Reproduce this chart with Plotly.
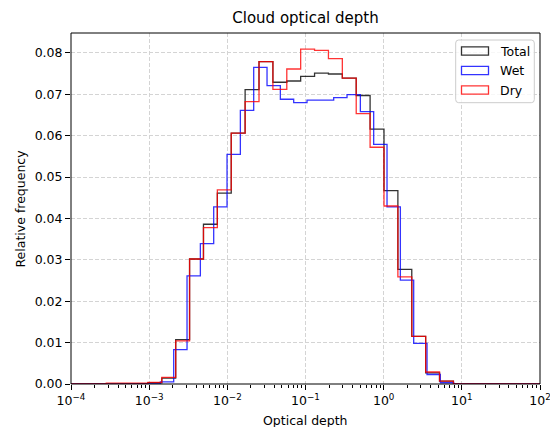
import plotly.graph_objects as go

# ---- histogram data (bin edges as log10 of optical depth) ----
total_edges_log = [-3.5489, -3.3713, -3.1936, -3.0160, -2.8383, -2.6606, -2.4830,
                   -2.3053, -2.1277, -1.9500, -1.7724, -1.5947, -1.4171, -1.2394,
                   -1.0618, -0.8841, -0.7065, -0.5288, -0.3511, -0.1735, 0.0042,
                   0.1818, 0.3595, 0.5371, 0.7148, 0.8924]
total_freq = [0.0000, 0.0001, 0.0001, 0.0003, 0.0014, 0.0107, 0.0302, 0.0386,
              0.0461, 0.0606, 0.0711, 0.0779, 0.0729, 0.0732, 0.0743, 0.0751,
              0.0749, 0.0739, 0.0697, 0.0616, 0.0467, 0.0277, 0.0115, 0.0027,
              0.0007]

wet_edges_log = [-2.8568, -2.6862, -2.5156, -2.3451, -2.1745, -2.0039, -1.8334,
                 -1.6628, -1.4922, -1.3217, -1.1511, -0.9805, -0.8099, -0.6394,
                 -0.4688, -0.2982, -0.1277, 0.0429, 0.2135, 0.3841, 0.5546,
                 0.7252, 0.8958]
wet_freq = [0.0005, 0.0083, 0.0261, 0.0339, 0.0428, 0.0555, 0.0661, 0.0765,
            0.0721, 0.0688, 0.0680, 0.0686, 0.0686, 0.0692, 0.0699, 0.0658,
            0.0579, 0.0428, 0.0251, 0.0098, 0.0023, 0.0003]

dry_edges_log = total_edges_log
dry_freq = [0.0002, 0.0002, 0.0002, 0.0004, 0.0016, 0.0104, 0.0302, 0.0378,
            0.0469, 0.0606, 0.0682, 0.0779, 0.0712, 0.0761, 0.0809, 0.0806,
            0.0786, 0.0739, 0.0653, 0.0572, 0.0430, 0.0259, 0.0115, 0.0029,
            0.0007]

series_names = ["Total", "Wet", "Dry"]
series_colors = ["rgba(0,0,0,0.8)", "rgba(0,0,255,0.8)", "rgba(255,0,0,0.8)"]

x_tick_exponents = [-4, -3, -2, -1, 0, 1, 2]
y_ticks = [0.00, 0.01, 0.02, 0.03, 0.04, 0.05, 0.06, 0.07, 0.08]

X_LO, X_HI = -4, 2          # log10 axis limits
Y_TOP = 0.0848

# ---- figure geometry (pixels) ----
W, H = 550, 427
ML, MR, MT, MB = 71, 10, 33, 43
PW, PH = W - ML - MR, H - MT - MB
FONT = "DejaVu Sans"


def px_x(p):
    return (p - ML) / PW


def px_y(p):
    return (H - MB - p) / PH


def step_trace(edges_log, freq, name, color):
    # matplotlib-style unfilled step outline, with zero baseline to the axis limits
    xs = [10 ** X_LO] + [10 ** e for e in edges_log] + [10 ** X_HI]
    ys = [0.0] + list(freq) + [0.0, 0.0]
    return go.Scatter(x=xs, y=ys, mode="lines", name=name,
                      line=dict(color=color, width=1.3, shape="hv"),
                      showlegend=False, hoverinfo="skip", cliponaxis=True)


fig = go.Figure()
fig.add_trace(step_trace(total_edges_log, total_freq, series_names[0], series_colors[0]))
fig.add_trace(step_trace(wet_edges_log, wet_freq, series_names[1], series_colors[1]))
fig.add_trace(step_trace(dry_edges_log, dry_freq, series_names[2], series_colors[2]))

minor_vals = [m * 10 ** e for e in x_tick_exponents[:-1] for m in range(2, 10)]

grid_dash = "4px,2px"
fig.update_xaxes(
    type="log", range=[X_LO, X_HI],
    tickvals=[10 ** e for e in x_tick_exponents],
    ticktext=["10<sup>\u2212%d</sup>" % -e if e < 0 else "10<sup>%d</sup>" % e
              for e in x_tick_exponents],
    ticklabeloverflow="allow",
    ticks="outside", ticklen=5, tickwidth=1, tickcolor="black",
    minor=dict(tickvals=minor_vals, ticks="outside", ticklen=3, tickwidth=0.8,
               tickcolor="black", showgrid=False),
    showline=False,
    showgrid=True, gridcolor="#d4d4d4", gridwidth=0.8, griddash=grid_dash,
    zeroline=False, automargin=False,
    tickfont=dict(family=FONT, size=12.5, color="black"),
)
fig.update_yaxes(
    range=[0, Y_TOP], tickvals=y_ticks, tickformat=".2f",
    ticklabeloverflow="allow",
    ticks="outside", ticklen=5, tickwidth=1, tickcolor="black",
    showline=False,
    showgrid=True, gridcolor="#d4d4d4", gridwidth=0.8, griddash=grid_dash,
    zeroline=False, automargin=False,
    tickfont=dict(family=FONT, size=12.5, color="black"),
)

shapes = []
annotations = []

# ---- axes frame ----
shapes.append(dict(type="rect", xref="paper", yref="paper", x0=0, x1=1, y0=0, y1=1,
                   line=dict(color="black", width=1), fillcolor="rgba(0,0,0,0)",
                   layer="above"))

# ---- legend drawn as outlined patches ----
box_l, box_r, box_t, box_b = 455.7, 534.3, 40.0, 102.7
r = 3
path = ("M {l},{t0} L {l},{b0} Q {l},{b} {l0},{b} L {r0},{b} Q {r},{b} {r},{b0} "
        "L {r},{t0} Q {r},{t} {r0},{t} L {l0},{t} Q {l},{t} {l},{t0} Z").format(
    l=px_x(box_l), r=px_x(box_r), t=px_y(box_t), b=px_y(box_b),
    l0=px_x(box_l + r), r0=px_x(box_r - r), t0=px_y(box_t + r), b0=px_y(box_b - r))
shapes.append(dict(type="path", xref="paper", yref="paper", path=path,
                   fillcolor="rgba(255,255,255,0.8)",
                   line=dict(color="#cccccc", width=1)))
row_centers = [51.0, 70.5, 90.0]
for name, color, cy in zip(series_names, series_colors, row_centers):
    shapes.append(dict(type="rect", xref="paper", yref="paper",
                       x0=px_x(461.5), x1=px_x(488.5),
                       y0=px_y(cy + 4.2), y1=px_y(cy - 4.2),
                       line=dict(color=color, width=1.3),
                       fillcolor="rgba(0,0,0,0)"))
    annotations.append(dict(text=name, xref="paper", yref="paper",
                            x=px_x(497.5), y=px_y(cy), xanchor="left",
                            yanchor="middle", showarrow=False,
                            font=dict(family=FONT, size=12.5, color="black")))

# ---- axis titles ----
annotations.append(dict(text="Optical depth", xref="paper", yref="paper",
                        x=0.5, y=px_y(420), xanchor="center", yanchor="middle",
                        showarrow=False,
                        font=dict(family=FONT, size=12.5, color="black")))
annotations.append(dict(text="Relative frequency", xref="paper", yref="paper",
                        x=px_x(20), y=0.5, xanchor="center", yanchor="middle",
                        textangle=-90, showarrow=False,
                        font=dict(family=FONT, size=12.5, color="black")))

fig.update_layout(
    width=W, height=H,
    margin=dict(l=ML, r=MR, t=MT, b=MB, pad=0),
    paper_bgcolor="white", plot_bgcolor="white",
    title=dict(text="Cloud optical depth", x=0.5, xref="paper",
               y=1 - 18 / H, yref="container", xanchor="center", yanchor="middle",
               font=dict(family=FONT, size=15, color="black")),
    showlegend=False,
    shapes=shapes,
    annotations=annotations,
)

fig.write_html("out.html")
